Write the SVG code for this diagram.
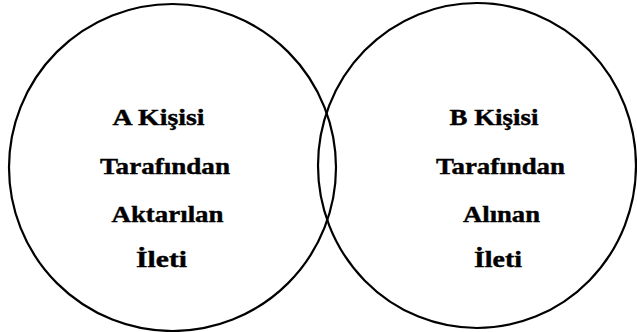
<svg xmlns="http://www.w3.org/2000/svg" width="637" height="332" viewBox="0 0 637 332">
<style>
.c{fill:none;stroke:#000;stroke-width:2.2}
.t{font-family:"Liberation Serif","Times New Roman",serif;font-weight:bold;font-size:23px;fill:#000;stroke:#000;stroke-width:0.4}
</style>
<rect width="637" height="332" fill="#fff"/>
<g id="personA">
<ellipse class="c" cx="172.5" cy="167.5" rx="163.5" ry="163.5"/>
<text class="t" x="112.5" y="125" textLength="92" lengthAdjust="spacingAndGlyphs">A Kişisi</text>
<text class="t" x="100" y="174" textLength="130" lengthAdjust="spacingAndGlyphs">Tarafından</text>
<text class="t" x="111.5" y="222" textLength="112" lengthAdjust="spacingAndGlyphs">Aktarılan</text>
<text class="t" x="136" y="267" textLength="51" lengthAdjust="spacingAndGlyphs">İleti</text>
</g>
<g id="personB">
<ellipse class="c" cx="477" cy="165.5" rx="159" ry="162.5"/>
<text class="t" x="449.5" y="125" textLength="89" lengthAdjust="spacingAndGlyphs">B Kişisi</text>
<text class="t" x="436" y="174" textLength="129" lengthAdjust="spacingAndGlyphs">Tarafından</text>
<text class="t" x="463" y="222" textLength="77" lengthAdjust="spacingAndGlyphs">Alınan</text>
<text class="t" x="474" y="267" textLength="48" lengthAdjust="spacingAndGlyphs">İleti</text>
</g>
<g id="connectors"></g>
</svg>
